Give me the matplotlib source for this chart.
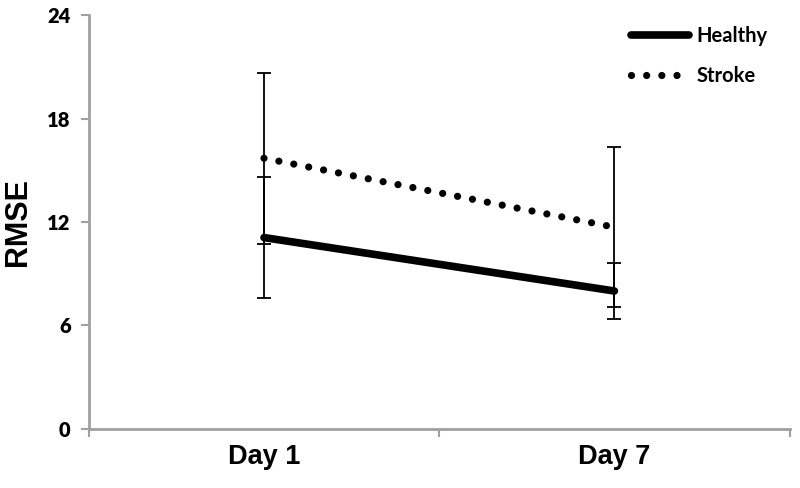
import numpy as np
import matplotlib.pyplot as plt

# data
days = ["Day 1", "Day 7"]
healthy = [11.1, 8.0]
healthy_err = [3.5, 1.6]
stroke = [15.7, 11.7]
stroke_err = [4.95, 4.65]

fig = plt.figure(figsize=(8, 4.88), dpi=100)
ax = fig.add_axes([0.111, 0.121, 0.876, 0.848])

x = np.arange(len(days))
axis_col = "#a0a0a0"

# error bars first, lines on top
ax.errorbar(x, stroke, yerr=stroke_err, fmt="none", ecolor="black",
            elinewidth=1.3, capsize=5, capthick=1.3, zorder=2)
ax.errorbar(x, healthy, yerr=healthy_err, fmt="none", ecolor="black",
            elinewidth=1.3, capsize=5, capthick=1.3, zorder=2)

ax.plot(x, healthy, color="black", linewidth=5.5, solid_capstyle="round",
        label="Healthy", zorder=3)
ax.plot(x, stroke, color="black", linewidth=5.2, linestyle=(0, (0.001, 2.1)),
        dash_capstyle="round", label="Stroke", zorder=3)

ax.set_xlim(-0.5, 1.5)
ax.set_ylim(0, 24)
ax.set_yticks([0, 6, 12, 18, 24])
ax.set_xticks([-0.5, 0.5, 1.5])
ax.set_xticklabels([])
ax.set_xticks(x, minor=True)
ax.set_xticklabels(days, minor=True)

for s in ["top", "right"]:
    ax.spines[s].set_visible(False)
for s in ["left", "bottom"]:
    ax.spines[s].set_color(axis_col)
    ax.spines[s].set_linewidth(2)

ax.tick_params(axis="y", which="major", direction="out", length=6, width=1.5,
               color=axis_col, pad=7)
ax.tick_params(axis="x", which="major", direction="out", length=6, width=1.5,
               color=axis_col)
ax.tick_params(axis="x", which="minor", length=0, pad=11)

for lab in ax.get_yticklabels():
    lab.set_fontfamily("Lato")
    lab.set_fontweight("heavy")
    lab.set_fontsize(14.5)
for lab in ax.get_xticklabels(minor=True):
    lab.set_fontfamily("Liberation Sans")
    lab.set_fontweight("bold")
    lab.set_fontsize(19.5)

ax.set_ylabel("RMSE", fontfamily="Liberation Sans", fontweight="bold",
              fontsize=22, labelpad=10)

leg = ax.legend(loc="upper right", bbox_to_anchor=(0.995, 1.018), frameon=False,
                handlelength=2.85, handletextpad=0.4, labelspacing=1.0,
                prop={"family": "Lato", "weight": "bold", "size": 14.5})

fig.savefig("out.png", dpi=100)
